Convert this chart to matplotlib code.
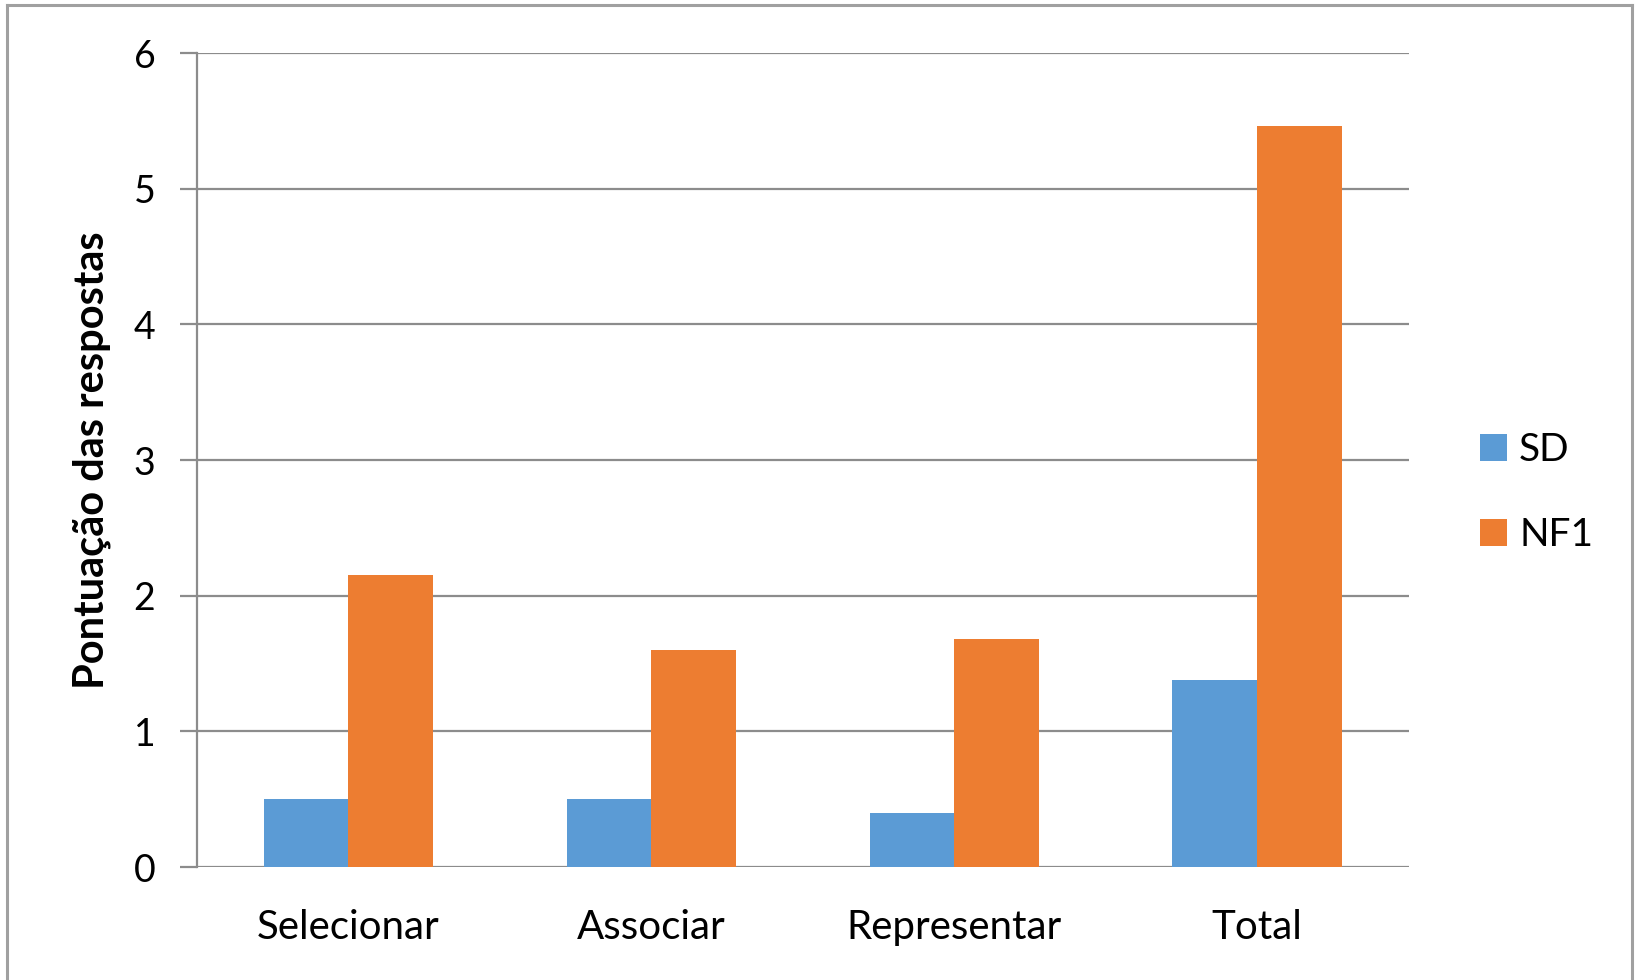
import numpy as np
import matplotlib.pyplot as plt
from matplotlib.lines import Line2D

# scores per task type for each group
categorias = ['Selecionar', 'Associar', 'Representar', 'Total']
sd_vals = [0.5, 0.5, 0.4, 1.38]
nf1_vals = [2.15, 1.6, 1.68, 5.46]
series = ['SD', 'NF1']
cores = ['#5B9BD5', '#ED7D31']

plt.rcParams['font.family'] = ['Lato', 'DejaVu Sans']

fig = plt.figure(figsize=(16.4, 9.8), dpi=100)
ax = fig.add_axes([0.1201, 0.1153, 0.859 - 0.1201, 0.9459 - 0.1153])

x = np.arange(len(categorias))
w = 0.28
ax.bar(x - w / 2, sd_vals, w, color=cores[0], label=series[0], zorder=3)
ax.bar(x + w / 2, nf1_vals, w, color=cores[1], label=series[1], zorder=3)

ax.set_xlim(-0.5, len(categorias) - 0.5)
ax.set_ylim(0, 6)
ax.set_yticks(range(0, 7))
ax.set_xticks(x)
ax.set_xticklabels(categorias)

grid_col = '#8c8c8c'
ax.yaxis.grid(True, color=grid_col, linewidth=1.6, zorder=0)
for s in ['top', 'right', 'bottom']:
    ax.spines[s].set_visible(False)
ax.spines['left'].set_color(grid_col)
ax.spines['left'].set_linewidth(1.6)

ax.tick_params(axis='y', length=12, width=1.6, color=grid_col, pad=18, labelsize=27)
ax.tick_params(axis='x', length=0, pad=30, labelsize=29)

ax.set_ylabel('Pontuação das respostas', fontsize=30, fontweight='bold', labelpad=16)

ax.legend(loc='center left', bbox_to_anchor=(1.03, 0.46), frameon=False,
          fontsize=28, handlelength=0.7, handleheight=0.7, handletextpad=0.3,
          labelspacing=1.25)

# outer frame of the chart area
frame_kw = dict(color='#a0a0a0', linewidth=2.2, transform=fig.transFigure)
fig.add_artist(Line2D([0.0043, 0.0043], [0.0, 0.995], **frame_kw))
fig.add_artist(Line2D([0.0043, 0.995], [0.995, 0.995], **frame_kw))
fig.add_artist(Line2D([0.995, 0.995], [0.0, 0.995], **frame_kw))

fig.savefig('out.png', dpi=100)
